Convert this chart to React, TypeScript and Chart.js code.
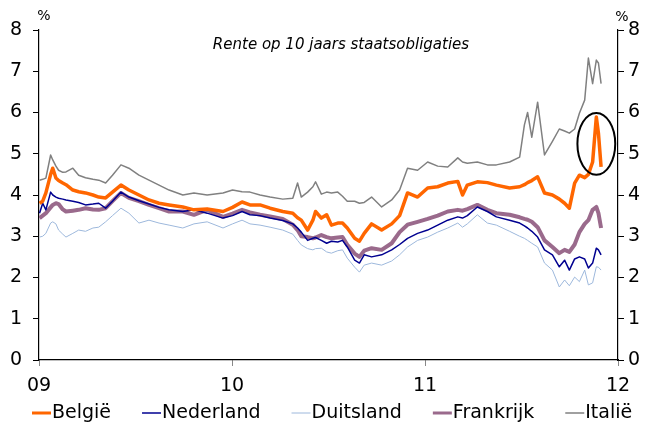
import React, { useEffect, useRef } from "react";
import { Chart, registerables } from "chart.js";
Chart.register(...registerables);

const dates = [
  "2009-01-02","2009-01-08","2009-01-14","2009-01-23","2009-01-27","2009-02-02","2009-02-07","2009-02-15","2009-02-21","2009-03-06","2009-03-17","2009-03-30","2009-04-13","2009-04-24","2009-05-07","2009-05-20","2009-06-05","2009-06-20","2009-07-09","2009-07-28","2009-08-16","2009-09-04","2009-09-30","2009-10-21","2009-11-15","2009-12-15",
  "2010-01-02","2010-01-20","2010-02-04","2010-02-23","2010-03-14","2010-04-07","2010-04-26","2010-05-05","2010-05-12","2010-05-24","2010-06-03","2010-06-08","2010-06-19","2010-06-29","2010-07-08","2010-07-20","2010-07-29","2010-08-07","2010-08-21","2010-08-30","2010-09-08","2010-09-22","2010-10-11","2010-10-30","2010-11-14","2010-11-29","2010-12-18",
  "2011-01-06","2011-01-25","2011-02-13","2011-03-04","2011-03-13","2011-03-22","2011-04-10","2011-04-29","2011-05-16","2011-06-10","2011-06-29","2011-07-08","2011-07-14","2011-07-22","2011-08-02","2011-08-15","2011-08-30","2011-09-12","2011-09-22","2011-10-01","2011-10-11","2011-10-20","2011-10-30","2011-11-06","2011-11-14","2011-11-21","2011-11-25","2011-11-30"
];

const belgie = [
  3.80,3.85,4.05,4.50,4.65,4.41,4.35,4.29,4.25,4.12,4.08,4.05,4.00,3.95,3.93,4.07,4.24,4.12,4.00,3.88,3.80,3.76,3.71,3.64,3.66,3.60,
  3.70,3.83,3.76,3.76,3.68,3.60,3.56,3.45,3.39,3.15,3.39,3.60,3.44,3.52,3.27,3.32,3.32,3.20,2.95,2.88,3.07,3.30,3.15,3.30,3.50,4.05,3.95,
  4.17,4.20,4.29,4.33,4.00,4.24,4.32,4.30,4.24,4.17,4.20,4.25,4.30,4.35,4.44,4.05,4.00,3.90,3.80,3.68,4.29,4.48,4.42,4.50,4.80,5.89,5.50,4.68
];
const nederland = [
  3.56,3.80,3.64,4.07,4.00,3.95,3.92,3.90,3.88,3.85,3.82,3.76,3.78,3.80,3.68,3.85,4.07,3.95,3.86,3.78,3.70,3.64,3.60,3.64,3.56,3.44,
  3.50,3.60,3.52,3.50,3.44,3.38,3.30,3.20,3.10,2.90,2.95,2.97,2.90,2.83,2.88,2.86,2.90,2.74,2.42,2.35,2.55,2.50,2.55,2.67,2.80,2.95,3.07,
  3.15,3.27,3.39,3.47,3.44,3.50,3.71,3.60,3.47,3.39,3.32,3.25,3.20,3.12,2.98,2.67,2.55,2.26,2.42,2.18,2.45,2.50,2.45,2.23,2.35,2.71,2.67,2.55
];
const duitsland = [
  2.98,3.00,3.07,3.32,3.35,3.30,3.15,3.05,2.98,3.07,3.15,3.12,3.20,3.22,3.35,3.50,3.68,3.56,3.32,3.39,3.32,3.27,3.20,3.30,3.35,3.20,
  3.30,3.39,3.30,3.27,3.22,3.15,3.05,2.90,2.79,2.70,2.67,2.70,2.71,2.62,2.59,2.65,2.67,2.47,2.25,2.13,2.30,2.35,2.30,2.40,2.55,2.74,2.90,
  2.98,3.10,3.20,3.32,3.22,3.30,3.52,3.32,3.27,3.12,3.00,2.95,2.90,2.83,2.74,2.35,2.18,1.77,1.94,1.80,2.01,1.90,2.18,1.82,1.87,2.26,2.25,2.18
];
const frankrijk = [
  3.44,3.50,3.56,3.70,3.76,3.80,3.78,3.65,3.60,3.62,3.64,3.68,3.65,3.64,3.68,3.85,4.05,3.93,3.85,3.76,3.68,3.60,3.60,3.52,3.64,3.47,
  3.55,3.64,3.58,3.52,3.48,3.42,3.28,3.15,3.00,2.98,2.95,2.97,3.03,2.98,2.95,2.97,2.98,2.79,2.58,2.50,2.65,2.71,2.67,2.83,3.10,3.28,3.35,
  3.42,3.50,3.60,3.64,3.62,3.66,3.76,3.64,3.56,3.52,3.46,3.42,3.40,3.35,3.22,2.90,2.74,2.59,2.67,2.62,2.80,3.10,3.30,3.39,3.64,3.71,3.56,3.20
];
const italie = [
  4.36,4.38,4.41,4.97,4.85,4.70,4.60,4.55,4.56,4.65,4.48,4.42,4.38,4.36,4.29,4.48,4.73,4.65,4.48,4.36,4.24,4.12,4.00,4.05,4.00,4.05,
  4.12,4.08,4.07,4.00,3.95,3.90,3.92,4.29,3.95,4.07,4.20,4.32,4.02,4.07,4.05,4.07,3.97,3.85,3.85,3.80,3.82,3.95,3.71,3.88,4.12,4.65,4.60,
  4.80,4.70,4.68,4.90,4.80,4.77,4.80,4.73,4.73,4.80,4.92,5.70,6.00,5.40,6.25,4.97,5.30,5.60,5.55,5.50,5.60,5.98,6.30,7.32,6.70,7.27,7.20,6.70
];

const seriesNames = ["België", "Nederland", "Duitsland", "Frankrijk", "Italië"];
const xTickLabels = ["09", "10", "11", "12"];
const yTicks = [0, 1, 2, 3, 4, 5, 6, 7, 8];
const titleText = "Rente op 10 jaars staatsobligaties";
const unitText = "%";
// highlighted area (circle around the Belgian spike)
const highlightCenterDate = "2011-11-21";
const highlightCenterValue = 5.24;
const highlightHalfWidthYears = 0.098;
const highlightHalfHeight = 0.75;

const seriesValues = [belgie, nederland, duitsland, frankrijk, italie];
const seriesColors = ["#FF6600", "#000090", "#9DB8DC", "#9A6A8C", "#808080"];
const seriesWidths = [3.5, 1.5, 1, 4, 1.5];

const FONT = "'DejaVu Sans', Verdana, sans-serif";

function toYears(s: string): number {
  const [y, m, d] = s.split("-").map(Number);
  const start = Date.UTC(y, 0, 1);
  const end = Date.UTC(y + 1, 0, 1);
  return y - 2009 + (Date.UTC(y, m - 1, d) - start) / (end - start);
}

const overlayPlugin = {
  id: "overlay",
  afterDraw(chart: any) {
    const ctx = chart.ctx as CanvasRenderingContext2D;
    const xs = chart.scales.x;
    const ys = chart.scales.y;
    const area = chart.chartArea;
    ctx.save();
    // title
    ctx.fillStyle = "#000";
    ctx.font = `italic 15px ${FONT}`;
    ctx.textAlign = "center";
    ctx.textBaseline = "middle";
    ctx.fillText(titleText, 341, 45);
    // unit labels
    ctx.font = `14px ${FONT}`;
    ctx.fillText(unitText, area.left + 5, 16);
    ctx.fillText(unitText, area.right + 4, 17);
    // ellipse
    const c = toYears(highlightCenterDate);
    const cx = xs.getPixelForValue(c);
    const cy = ys.getPixelForValue(highlightCenterValue);
    const rx = xs.getPixelForValue(c + highlightHalfWidthYears) - cx;
    const ry = cy - ys.getPixelForValue(highlightCenterValue + highlightHalfHeight);
    ctx.beginPath();
    ctx.ellipse(cx, cy, rx, ry, 0, 0, Math.PI * 2);
    ctx.strokeStyle = "#000";
    ctx.lineWidth = 2;
    ctx.stroke();
    // legend
    ctx.font = `19px ${FONT}`;
    ctx.textAlign = "left";
    ctx.textBaseline = "middle";
    let x = 32;
    const ly = 413;
    seriesNames.forEach((name, i) => {
      ctx.beginPath();
      ctx.moveTo(x, ly);
      ctx.lineTo(x + 19, ly);
      ctx.strokeStyle = seriesColors[i];
      ctx.lineWidth = Math.min(seriesWidths[i], 3);
      ctx.stroke();
      ctx.fillStyle = "#000";
      ctx.fillText(name, x + 20, ly);
      x += 20 + ctx.measureText(name).width + 31;
    });
    ctx.restore();
  },
};

export default function App() {
  const ref = useRef<HTMLCanvasElement>(null);
  useEffect(() => {
    document.body.style.margin = "0";
    const xv = dates.map(toYears);
    const tickFont = { family: FONT, size: 19 };
    const yAxis = (pos: "left" | "right", w: number, pad: number) => ({
      position: pos,
      min: 0,
      max: 8,
      afterBuildTicks: (s: any) => {
        s.ticks = yTicks.map((v) => ({ value: v }));
      },
      afterFit: (s: any) => {
        s.width = w;
      },
      ticks: { font: tickFont, color: "#000", padding: pad },
      grid: { display: true, drawOnChartArea: false, tickLength: 6, color: "#000" },
      border: { color: "#000", width: 1.2 },
    });
    const chart = new Chart(ref.current as HTMLCanvasElement, {
      type: "line",
      data: {
        datasets: seriesNames.map((name, i) => ({
          label: name,
          data: seriesValues[i].map((v, j) => ({ x: xv[j], y: v })),
          borderColor: seriesColors[i],
          backgroundColor: seriesColors[i],
          borderWidth: seriesWidths[i],
          pointRadius: 0,
          tension: 0,
          fill: false,
          borderJoinStyle: "round",
          yAxisID: "y",
        })),
      },
      options: {
        responsive: false,
        animation: false,
        events: [],
        layout: { padding: { top: 30, left: 0, right: 0, bottom: 0 } },
        plugins: { legend: { display: false }, tooltip: { enabled: false }, title: { display: false } },
        scales: {
          x: {
            type: "linear",
            min: 0,
            max: 3,
            afterBuildTicks: (s: any) => {
              s.ticks = xTickLabels.map((_, i) => ({ value: i }));
            },
            afterFit: (s: any) => {
              s.height = 63;
            },
            ticks: {
              font: tickFont,
              color: "#000",
              padding: 9,
              maxRotation: 0,
              autoSkip: false,
              callback: (v: any) => xTickLabels[Math.round(Number(v))] ?? "",
            },
            grid: { display: true, drawOnChartArea: false, tickLength: 6, color: "#888" },
            border: { color: "#000", width: 1.2 },
          },
          y: yAxis("left", 39, 11) as any,
          y2: yAxis("right", 31, 4) as any,
        },
      } as any,
      plugins: [overlayPlugin],
    });
    return () => chart.destroy();
  }, []);
  return <canvas ref={ref} width={649} height={423} style={{ display: "block" }} />;
}
